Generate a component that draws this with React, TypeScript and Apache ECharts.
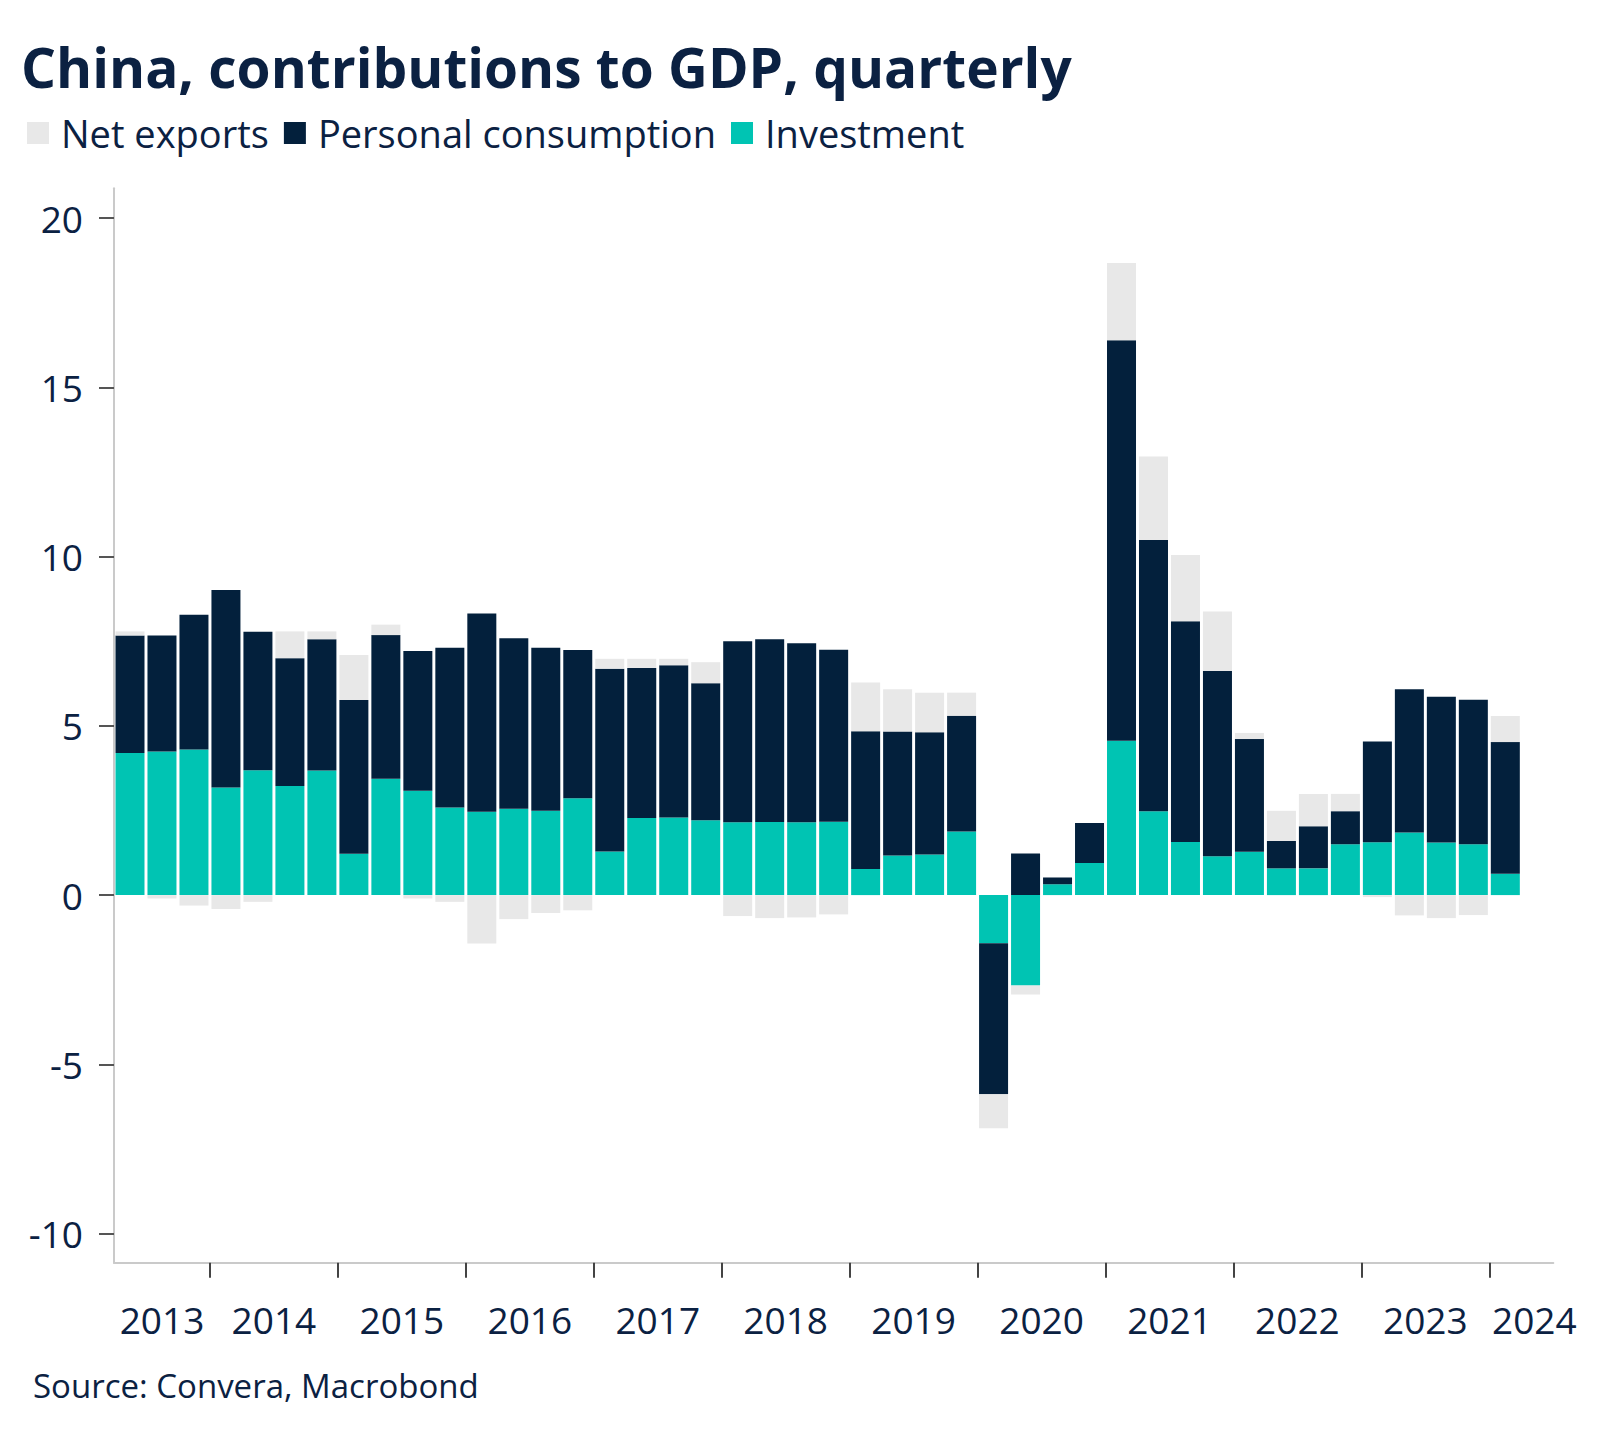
import React, { useEffect, useRef } from 'react';
import * as echarts from 'echarts';

const quarters = [
  '2013Q2', '2013Q3', '2013Q4',
  '2014Q1', '2014Q2', '2014Q3', '2014Q4',
  '2015Q1', '2015Q2', '2015Q3', '2015Q4',
  '2016Q1', '2016Q2', '2016Q3', '2016Q4',
  '2017Q1', '2017Q2', '2017Q3', '2017Q4',
  '2018Q1', '2018Q2', '2018Q3', '2018Q4',
  '2019Q1', '2019Q2', '2019Q3', '2019Q4',
  '2020Q1', '2020Q2', '2020Q3', '2020Q4',
  '2021Q1', '2021Q2', '2021Q3', '2021Q4',
  '2022Q1', '2022Q2', '2022Q3', '2022Q4',
  '2023Q1', '2023Q2', '2023Q3', '2023Q4',
  '2024Q1',
];

const investment = [
  4.2, 4.24, 4.3,
  3.18, 3.69, 3.22, 3.68,
  1.22, 3.44, 3.08, 2.59,
  2.46, 2.55, 2.49, 2.86,
  1.29, 2.28, 2.29, 2.21,
  2.15, 2.16, 2.15, 2.17,
  0.77, 1.17, 1.2, 1.88,
  -1.42, -2.67, 0.32, 0.95,
  4.56, 2.48, 1.57, 1.15,
  1.28, 0.79, 0.79, 1.5,
  1.56, 1.85, 1.55, 1.5,
  0.63,
];

const consumption = [
  3.47, 3.43, 3.98,
  5.83, 4.09, 3.78, 3.88,
  4.54, 4.24, 4.13, 4.72,
  5.86, 5.04, 4.82, 4.38,
  5.4, 4.43, 4.5, 4.05,
  5.35, 5.4, 5.29, 5.08,
  4.07, 3.66, 3.61, 3.42,
  -4.46, 1.23, 0.2, 1.18,
  11.83, 8.01, 6.52, 5.47,
  3.33, 0.81, 1.24, 0.98,
  2.98, 4.23, 4.31, 4.27,
  3.89,
];

const netExports = [
  0.12, -0.1, -0.31,
  -0.41, -0.2, 0.79, 0.23,
  1.33, 0.31, -0.1, -0.2,
  -1.43, -0.71, -0.53, -0.45,
  0.29, 0.27, 0.19, 0.62,
  -0.62, -0.68, -0.66, -0.57,
  1.44, 1.25, 1.17, 0.68,
  -1.01, -0.27, 0, 0,
  2.28, 2.47, 1.96, 1.76,
  0.18, 0.89, 0.96, 0.51,
  -0.06, -0.6, -0.68, -0.59,
  0.77,
];

const years = ['2013', '2014', '2015', '2016', '2017', '2018', '2019', '2020', '2021', '2022', '2023', '2024'];
const yTicks = [-10, -5, 0, 5, 10, 15, 20];

const NAVY = '#03203c';
const TEAL = '#00c4b3';
const GREY = '#e8e8e8';
const TEXT = '#0b2142';
const FONT = '"Open Sans", "Noto Sans", sans-serif';

export default function App() {
  const ref = useRef<HTMLDivElement>(null);

  useEffect(() => {
    if (!ref.current) return;
    const chart = echarts.init(ref.current, null, { renderer: 'svg' });

    const slots = quarters.length + 1;
    const categories = [...quarters, ''];
    const yearStart: Record<string, number> = {};
    quarters.forEach((q, i) => {
      const y = q.slice(0, 4);
      if (!(y in yearStart)) yearStart[y] = i;
    });
    const boundaries = quarters
      .map((q, i) => (q.endsWith('Q1') ? i : -1))
      .filter((i) => i > 0);
    const labelPos = years.map((y, k) => {
      const s = yearStart[y];
      const e = k + 1 < years.length ? yearStart[years[k + 1]] : slots;
      return (s + e) / 2;
    });

    const labelStyle = { fontSize: 37, color: TEXT, fontFamily: FONT };

    chart.setOption({
      animation: false,
      backgroundColor: '#ffffff',
      title: [
        {
          text: 'China, contributions to GDP, quarterly',
          left: 21,
          top: 39,
          padding: 0,
          textStyle: { fontSize: 55, fontWeight: 'bold', color: TEXT, fontFamily: FONT },
        },
        {
          text: 'Source: Convera, Macrobond',
          left: 33,
          top: 1369,
          padding: 0,
          textStyle: { fontSize: 33, fontWeight: 'normal', color: TEXT, fontFamily: FONT },
        },
      ],
      legend: {
        data: ['Net exports', 'Personal consumption', 'Investment'],
        left: 22,
        top: 109,
        icon: 'rect',
        itemWidth: 22,
        itemHeight: 22,
        itemGap: 15,
        textStyle: { fontSize: 38, color: TEXT, fontFamily: FONT, padding: [0, 0, 0, 7] },
      },
      grid: { left: 114, right: 46.7, top: 188.3, bottom: 179.3, containLabel: false },
      xAxis: [
        {
          type: 'category',
          data: categories,
          position: 'bottom',
          boundaryGap: true,
          axisLine: { show: true, onZero: false, lineStyle: { color: '#cacaca', width: 2 } },
          axisTick: { show: false },
          axisLabel: { show: false },
          splitLine: { show: false },
        },
        {
          type: 'value',
          min: 0,
          max: slots,
          position: 'bottom',
          axisLine: { show: false, onZero: false },
          splitLine: { show: false },
          axisTick: {
            show: true,
            customValues: boundaries,
            length: 15,
            lineStyle: { color: '#444444', width: 2 },
          },
          axisLabel: {
            show: true,
            customValues: labelPos,
            margin: 38,
            ...labelStyle,
            formatter: (v: number) => {
              const k = labelPos.findIndex((p) => Math.abs(p - v) < 1e-6);
              if (k < 0) return '';
              return k === years.length - 1 ? `{last|${years[k]}}` : years[k];
            },
            rich: {
              last: { ...labelStyle, padding: [0, 0, 0, 26] },
            },
          },
        },
      ],
      yAxis: {
        type: 'value',
        min: -10.86,
        max: 20.88,
        axisLine: { show: true, onZero: false, lineStyle: { color: '#cacaca', width: 2 } },
        axisTick: {
          show: true,
          customValues: yTicks,
          length: 15,
          lineStyle: { color: '#555555', width: 2 },
        },
        axisLabel: {
          show: true,
          customValues: yTicks,
          margin: 31,
          ...labelStyle,
        },
        splitLine: { show: false },
      },
      series: [
        {
          name: 'Investment',
          type: 'bar',
          stack: 'gdp',
          xAxisIndex: 0,
          yAxisIndex: 0,
          barWidth: 29,
          data: investment,
          itemStyle: { color: TEAL },
        },
        {
          name: 'Personal consumption',
          type: 'bar',
          stack: 'gdp',
          xAxisIndex: 0,
          yAxisIndex: 0,
          barWidth: 29,
          data: consumption,
          itemStyle: { color: NAVY },
        },
        {
          name: 'Net exports',
          type: 'bar',
          stack: 'gdp',
          xAxisIndex: 0,
          yAxisIndex: 0,
          barWidth: 29,
          data: netExports,
          itemStyle: { color: GREY },
        },
      ],
    });

    return () => chart.dispose();
  }, []);

  return (
    <div
      ref={ref}
      style={{ position: 'absolute', left: 0, top: 0, width: 1600, height: 1442 }}
    />
  );
}
